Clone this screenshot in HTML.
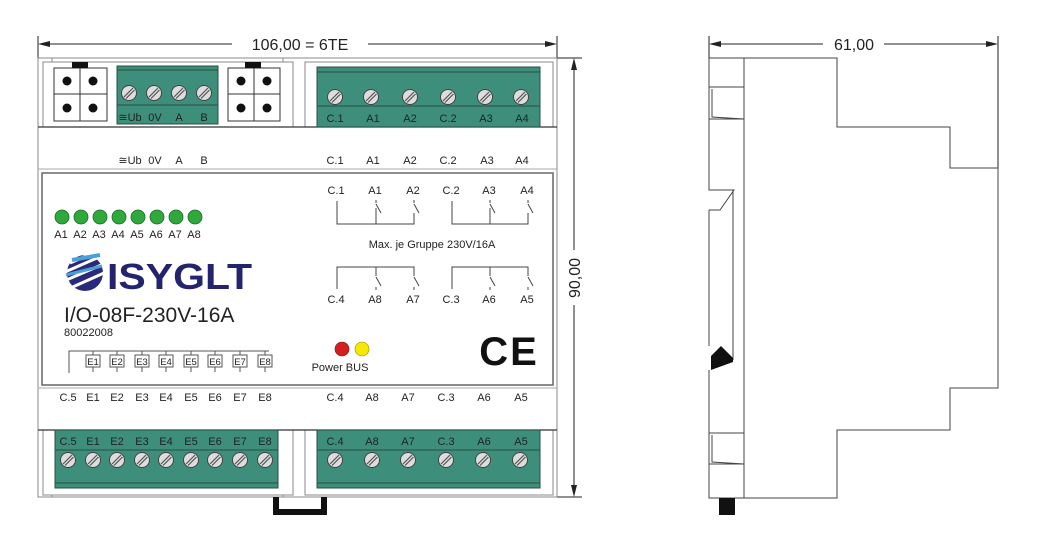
<!DOCTYPE html>
<html><head><meta charset="utf-8"><style>
html,body{margin:0;padding:0;background:#fff;}
svg{display:block;font-family:"Liberation Sans",sans-serif;}
</style></head><body>
<svg width="1037" height="546" viewBox="0 0 1037 546" xmlns="http://www.w3.org/2000/svg">
<defs>
<g id="scr"><circle r="7.5" fill="#ddd" stroke="#444" stroke-width="1"/><line x1="-5" y1="4" x2="4" y2="-5" stroke="#555" stroke-width="1.2"/><line x1="-3" y1="5.5" x2="5.5" y2="-3" stroke="#555" stroke-width="1.2"/></g>
<g id="led"><circle r="7" fill="#2fa83c" stroke="#1b6d25" stroke-width="0.8"/></g>
</defs>
<g fill="none" stroke="#222" stroke-width="1">
<line x1="38" y1="36" x2="38" y2="60"/>
<line x1="557" y1="36" x2="557" y2="60"/>
<line x1="40" y1="44" x2="232" y2="44"/>
<line x1="368" y1="44" x2="555" y2="44"/>
<line x1="557" y1="58" x2="582" y2="58"/>
<line x1="557" y1="497" x2="582" y2="497"/>
<line x1="574" y1="60" x2="574" y2="250"/>
<line x1="574" y1="305" x2="574" y2="495"/>
</g>
<polygon points="38,44 50,41 50,47" fill="#222"/>
<polygon points="557,44 545,41 545,47" fill="#222"/>
<polygon points="574,58 571,70 577,70" fill="#222"/>
<polygon points="574,497 571,485 577,485" fill="#222"/>
<text x="300" y="50" font-size="16" text-anchor="middle" fill="#222">106,00 = 6TE</text>
<text transform="translate(580,278) rotate(-90)" font-size="16" text-anchor="middle" fill="#222">90,00</text>

<g fill="none" stroke="#888" stroke-width="1">
<rect x="38" y="58" width="519" height="439"/>
<rect x="43" y="62" width="250" height="65"/>
<rect x="305" y="62" width="248" height="65"/>
<rect x="43" y="430" width="250" height="65"/>
<rect x="305" y="430" width="248" height="65"/>
<line x1="52" y1="58" x2="52" y2="62"/><line x1="283" y1="58" x2="283" y2="62"/>
<line x1="52" y1="495" x2="52" y2="497"/><line x1="283" y1="495" x2="283" y2="497"/>
</g>
<g stroke="#333" stroke-width="1.2" fill="none">
<line x1="38" y1="127" x2="557" y2="127"/>
<line x1="38" y1="430" x2="557" y2="430"/>
</g>
<rect x="42" y="173" width="511" height="212" fill="#fff" stroke="#666" stroke-width="1.5"/>
<line x1="38" y1="169" x2="557" y2="169" stroke="#aaa"/>
<line x1="38" y1="388" x2="557" y2="388" stroke="#aaa"/>

<g stroke="#333" stroke-width="1" fill="#fff">
<rect x="54" y="68" width="53" height="53"/>
<line x1="80" y1="68" x2="80" y2="121"/><line x1="54" y1="94" x2="107" y2="94"/>
<rect x="228" y="68" width="52" height="53"/>
<line x1="254" y1="68" x2="254" y2="121"/><line x1="228" y1="94" x2="280" y2="94"/>
</g>
<rect x="72" y="62" width="16" height="6" fill="#111"/>
<rect x="245" y="62" width="16" height="6" fill="#111"/>
<g fill="#111">
<circle cx="67" cy="81" r="4.5"/><circle cx="93" cy="81" r="4.5"/><circle cx="67" cy="108" r="4.5"/><circle cx="93" cy="108" r="4.5"/>
<circle cx="241" cy="81" r="4.5"/><circle cx="267" cy="81" r="4.5"/><circle cx="241" cy="108" r="4.5"/><circle cx="267" cy="108" r="4.5"/>
</g>

<g stroke="#2a4d44" stroke-width="1">
<rect x="117" y="66" width="101" height="58" fill="#3d8f7c"/>
<line x1="117" y1="70" x2="218" y2="70"/><line x1="117" y1="105" x2="218" y2="105"/>
<rect x="317" y="67" width="223" height="60" fill="#3d8f7c"/>
<line x1="317" y1="72" x2="540" y2="72"/><line x1="317" y1="106" x2="540" y2="106"/>
<rect x="55" y="430" width="223" height="58" fill="#3d8f7c"/>
<line x1="55" y1="450" x2="278" y2="450"/><line x1="55" y1="483" x2="278" y2="483"/>
<rect x="317" y="430" width="223" height="58" fill="#3d8f7c"/>
<line x1="317" y1="450" x2="540" y2="450"/><line x1="317" y1="483" x2="540" y2="483"/>
</g>
<use href="#scr" x="129" y="93"/><use href="#scr" x="154" y="93"/><use href="#scr" x="179" y="93"/><use href="#scr" x="204" y="93"/>
<use href="#scr" x="335" y="97"/><use href="#scr" x="371" y="97"/><use href="#scr" x="410" y="97"/><use href="#scr" x="448" y="97"/><use href="#scr" x="485" y="97"/><use href="#scr" x="521" y="97"/>
<use href="#scr" x="68" y="460"/><use href="#scr" x="93" y="460"/><use href="#scr" x="117" y="460"/><use href="#scr" x="142" y="460"/><use href="#scr" x="166" y="460"/><use href="#scr" x="191" y="460"/><use href="#scr" x="215" y="460"/><use href="#scr" x="240" y="460"/><use href="#scr" x="265" y="460"/>
<use href="#scr" x="335" y="460"/><use href="#scr" x="372" y="460"/><use href="#scr" x="408" y="460"/><use href="#scr" x="446" y="460"/><use href="#scr" x="483" y="460"/><use href="#scr" x="520" y="460"/>

<g font-size="11" fill="#222" text-anchor="middle">
<text x="130" y="121">≅Ub</text><text x="155" y="121">0V</text><text x="179" y="121">A</text><text x="204" y="121">B</text>
<text x="335" y="122">C.1</text><text x="373" y="122">A1</text><text x="410" y="122">A2</text><text x="448" y="122">C.2</text><text x="486" y="122">A3</text><text x="522" y="122">A4</text>
<text x="68" y="445">C.5</text><text x="93" y="445">E1</text><text x="117" y="445">E2</text><text x="142" y="445">E3</text><text x="166" y="445">E4</text><text x="191" y="445">E5</text><text x="215" y="445">E6</text><text x="240" y="445">E7</text><text x="265" y="445">E8</text>
<text x="335" y="445">C.4</text><text x="372" y="445">A8</text><text x="408" y="445">A7</text><text x="446" y="445">C.3</text><text x="484" y="445">A6</text><text x="521" y="445">A5</text>
<text x="130" y="164">≅Ub</text><text x="155" y="164">0V</text><text x="179" y="164">A</text><text x="204" y="164">B</text>
<text x="335" y="164">C.1</text><text x="373" y="164">A1</text><text x="410" y="164">A2</text><text x="448" y="164">C.2</text><text x="487" y="164">A3</text><text x="522" y="164">A4</text>
<text x="68" y="401">C.5</text><text x="93" y="401">E1</text><text x="117" y="401">E2</text><text x="142" y="401">E3</text><text x="166" y="401">E4</text><text x="191" y="401">E5</text><text x="215" y="401">E6</text><text x="240" y="401">E7</text><text x="265" y="401">E8</text>
<text x="335" y="401">C.4</text><text x="372" y="401">A8</text><text x="408" y="401">A7</text><text x="446" y="401">C.3</text><text x="484" y="401">A6</text><text x="521" y="401">A5</text>
<text x="336" y="194">C.1</text><text x="375" y="194">A1</text><text x="413" y="194">A2</text><text x="451" y="194">C.2</text><text x="489" y="194">A3</text><text x="527" y="194">A4</text>
<text x="336" y="303">C.4</text><text x="375" y="303">A8</text><text x="413" y="303">A7</text><text x="451" y="303">C.3</text><text x="489" y="303">A6</text><text x="527" y="303">A5</text>
<text x="432" y="248">Max. je Gruppe 230V/16A</text>
<text x="340" y="371">Power BUS</text>
<text x="61" y="238">A1</text><text x="80" y="238">A2</text><text x="99" y="238">A3</text><text x="118" y="238">A4</text><text x="137" y="238">A5</text><text x="156" y="238">A6</text><text x="175" y="238">A7</text><text x="194" y="238">A8</text>
</g>
<g fill="none" stroke="#444" stroke-width="1">
<path d="M337,201 V224 H414 V213 M376,208 V224 M376,204 l5,9 M414,204 l5,9 M414,200 v3 M376,200 v3"/>
<path d="M452,201 V224 H528 V213 M490,208 V224 M490,204 l5,9 M528,204 l5,9 M490,200 v3 M528,200 v3"/>
<path d="M337,289 V267 H414 V276 M376,267 V276 M376,277 l5,9 M414,277 l5,9 M376,287 v3 M414,287 v3"/>
<path d="M452,289 V267 H528 V276 M490,267 V276 M490,277 l5,9 M528,277 l5,9 M490,287 v3 M528,287 v3"/>
</g>
<circle cx="342" cy="349" r="7" fill="#d3201f" stroke="#7a1010" stroke-width="0.6"/>
<circle cx="362" cy="349" r="7" fill="#f7e800" stroke="#998800" stroke-width="0.6"/>
<text x="509" y="365" font-size="40" font-weight="bold" text-anchor="middle" fill="#111" letter-spacing="2">CE</text>

<use href="#led" x="62" y="217"/><use href="#led" x="81" y="217"/><use href="#led" x="100" y="217"/><use href="#led" x="119" y="217"/><use href="#led" x="138" y="217"/><use href="#led" x="157" y="217"/><use href="#led" x="176" y="217"/><use href="#led" x="195" y="217"/>

<g>
<circle cx="85" cy="273" r="18" fill="#2a2a7a"/>
<g stroke="#fff" stroke-width="3">
<line x1="64" y1="281" x2="106" y2="263"/><line x1="66" y1="290" x2="104" y2="273"/><line x1="65" y1="272" x2="106" y2="254"/><line x1="70" y1="263" x2="100" y2="250"/>
</g>
<path d="M72,260 L100,255" stroke="#4aa0d8" stroke-width="4"/>
<path d="M66,275 L102,266" stroke="#4aa0d8" stroke-width="3"/>
</g>
<text x="107" y="289" font-size="36" font-weight="bold" fill="#24246e" textLength="145" lengthAdjust="spacingAndGlyphs">ISYGLT</text>
<text x="64" y="322" font-size="21" fill="#222">I/O-08F-230V-16A</text>
<text x="64" y="336" font-size="11" fill="#222">80022008</text>
<g fill="none" stroke="#555" stroke-width="1">
<path d="M69,373 V351 H269 M93,351 V355 M117,351 V355 M142,351 V355 M166,351 V355 M191,351 V355 M215,351 V355 M240,351 V355 M265,351 V355"/>
<path d="M93,367 V372 M117,367 V372 M142,367 V372 M166,367 V372 M191,367 V372 M215,367 V372 M240,367 V372 M265,367 V372"/>
<rect x="86" y="355" width="14" height="12"/><rect x="110" y="355" width="14" height="12"/><rect x="135" y="355" width="14" height="12"/><rect x="159" y="355" width="14" height="12"/><rect x="184" y="355" width="14" height="12"/><rect x="208" y="355" width="14" height="12"/><rect x="233" y="355" width="14" height="12"/><rect x="258" y="355" width="14" height="12"/>
</g>
<g font-size="9.5" fill="#222" text-anchor="middle">
<text x="93" y="365">E1</text><text x="117" y="365">E2</text><text x="142" y="365">E3</text><text x="166" y="365">E4</text><text x="191" y="365">E5</text><text x="215" y="365">E6</text><text x="240" y="365">E7</text><text x="265" y="365">E8</text>
</g>
<path d="M273,497 V515 H327 V497 H321 V509 H279 V497 Z" fill="#111"/>

<g fill="none" stroke="#222" stroke-width="1">
<line x1="709" y1="36" x2="709" y2="58"/>
<line x1="998" y1="36" x2="998" y2="168"/>
<line x1="711" y1="44" x2="823" y2="44"/>
<line x1="884" y1="44" x2="996" y2="44"/>
</g>
<polygon points="709,44 721,41 721,47" fill="#222"/>
<polygon points="998,44 986,41 986,47" fill="#222"/>
<text x="854" y="50" font-size="16" text-anchor="middle" fill="#222">61,00</text>
<g fill="none" stroke="#444" stroke-width="1">
<path d="M709,58 H837 V127 H950 V168 H998 V388 H950 V430 H837 V498 H709 V370"/>
<path d="M709,58 V190 H734 L720,210 H709"/>
<path d="M709,210 V346"/>
<path d="M744,58 V498"/>
<path d="M733,190 V360"/>
<path d="M709,87 H744 M709,119 H744 M712,89 V117 L744,119"/>
<path d="M709,433 H744 M709,464 H744 M712,435 V462 L744,464"/>
</g>
<polygon points="711,356 721,346 733,358 733,362 711,370" fill="#111"/>
<rect x="719" y="498" width="16" height="17" fill="#111"/>
</svg>
</body></html>
